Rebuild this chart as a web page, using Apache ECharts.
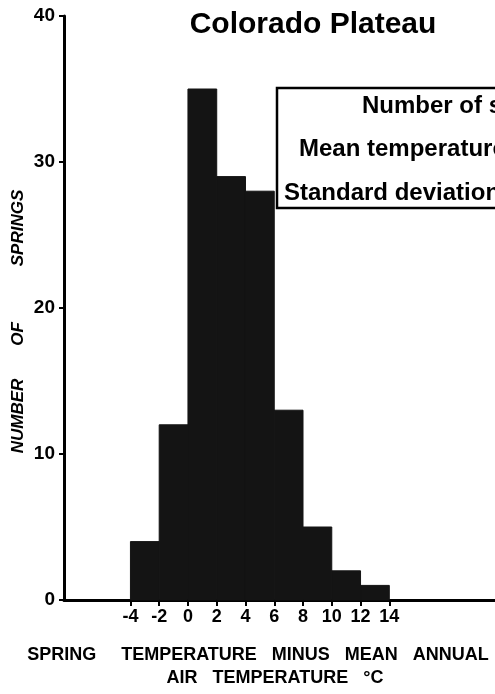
<!DOCTYPE html>
<html>
<head>
<meta charset="utf-8">
<script src="https://cdn.jsdelivr.net/npm/echarts@6/dist/echarts.min.js"></script>
<style>
html,body{margin:0;padding:0;background:#fff;}
#chart{width:495px;height:694px;}
</style>
</head>
<body>
<div id="chart"></div>
<script>
// Histogram data
const binEdges = [-4, -2, 0, 2, 4, 6, 8, 10, 12, 14];
const counts = [4, 12, 35, 29, 28, 13, 5, 2, 1];
const xTickValues = [-4, -2, 0, 2, 4, 6, 8, 10, 12, 14];
const yTickValues = [0, 10, 20, 30, 40];
const titleText = 'Colorado Plateau';
const boxLines = ['Number of springs', 'Mean temperature', 'Standard deviation'];
const xNameLines = ['SPRING     TEMPERATURE   MINUS   MEAN   ANNUAL', 'AIR   TEMPERATURE   °C'];
const yNameWords = ['NUMBER', 'OF', 'SPRINGS'];

const FONT = '"Liberation Sans", Arial, sans-serif';

const histData = counts.map((c, i) => [binEdges[i], binEdges[i + 1], c]);

const chart = echarts.init(document.getElementById('chart'), null, {renderer: 'canvas'});

const option = {
  animation: false,
  backgroundColor: '#ffffff',
  grid: {left: 64, right: 0, top: 16, bottom: 94, containLabel: false},
  xAxis: {
    type: 'value',
    min: -8.62,
    max: 21.35,
    splitLine: {show: false},
    axisLine: {show: true, onZero: false, lineStyle: {color: '#000', width: 3}},
    axisTick: {show: true, customValues: xTickValues, length: 6, lineStyle: {color: '#000', width: 2}},
    axisLabel: {
      show: true, customValues: xTickValues, margin: 8,
      color: '#000', fontFamily: FONT, fontWeight: 'bold', fontSize: 18
    }
  },
  yAxis: {
    type: 'value',
    min: 0, max: 40, interval: 10,
    splitLine: {show: false},
    axisLine: {show: true, onZero: false, lineStyle: {color: '#000', width: 3}},
    axisTick: {show: true, customValues: yTickValues, length: 5, lineStyle: {color: '#000', width: 2}},
    axisLabel: {
      show: true, customValues: yTickValues, margin: 9,
      color: '#000', fontFamily: FONT, fontWeight: 'bold', fontSize: 19
    }
  },
  series: [{
    type: 'custom',
    data: histData,
    encode: {x: [0, 1], y: 2},
    renderItem: function (params, api) {
      const p0 = api.coord([api.value(0), api.value(2)]);
      const p1 = api.coord([api.value(1), 0]);
      return {
        type: 'rect',
        shape: {x: p0[0], y: p0[1], width: p1[0] - p0[0], height: p1[1] - p0[1]},
        style: {fill: '#141414', stroke: '#141414', lineWidth: 1}
      };
    },
    z: 1
  }],
  graphic: [
    {type: 'text', x: 313, y: 25,
      style: {text: titleText, fill: '#000', font: 'bold 30px ' + FONT, align: 'center', verticalAlign: 'middle'}},
    {type: 'rect', x: 0, y: 0,
      shape: {x: 277, y: 88, width: 300, height: 120},
      style: {fill: 'rgba(0,0,0,0)', stroke: '#000', lineWidth: 2.5}},
    {type: 'text', x: 362, y: 106,
      style: {text: boxLines[0], fill: '#000', font: 'bold 24px ' + FONT, align: 'left', verticalAlign: 'middle'}},
    {type: 'text', x: 299, y: 149,
      style: {text: boxLines[1], fill: '#000', font: 'bold 24px ' + FONT, align: 'left', verticalAlign: 'middle'}},
    {type: 'text', x: 284, y: 193,
      style: {text: boxLines[2], fill: '#000', font: 'bold 24px ' + FONT, align: 'left', verticalAlign: 'middle'}},
    {type: 'text', x: 258, y: 655,
      style: {text: xNameLines[0], fill: '#000', font: 'bold 18px ' + FONT, align: 'center', verticalAlign: 'middle'}},
    {type: 'text', x: 275, y: 678,
      style: {text: xNameLines[1], fill: '#000', font: 'bold 18px ' + FONT, align: 'center', verticalAlign: 'middle'}},
    {type: 'text', x: 18, y: 416, rotation: Math.PI / 2,
      style: {text: yNameWords[0], fill: '#000', font: 'italic bold 17px ' + FONT, align: 'center', verticalAlign: 'middle'}},
    {type: 'text', x: 18, y: 334, rotation: Math.PI / 2,
      style: {text: yNameWords[1], fill: '#000', font: 'italic bold 17px ' + FONT, align: 'center', verticalAlign: 'middle'}},
    {type: 'text', x: 18, y: 228, rotation: Math.PI / 2,
      style: {text: yNameWords[2], fill: '#000', font: 'italic bold 17px ' + FONT, align: 'center', verticalAlign: 'middle'}}
  ]
};
chart.setOption(option);
</script>
</body>
</html>
